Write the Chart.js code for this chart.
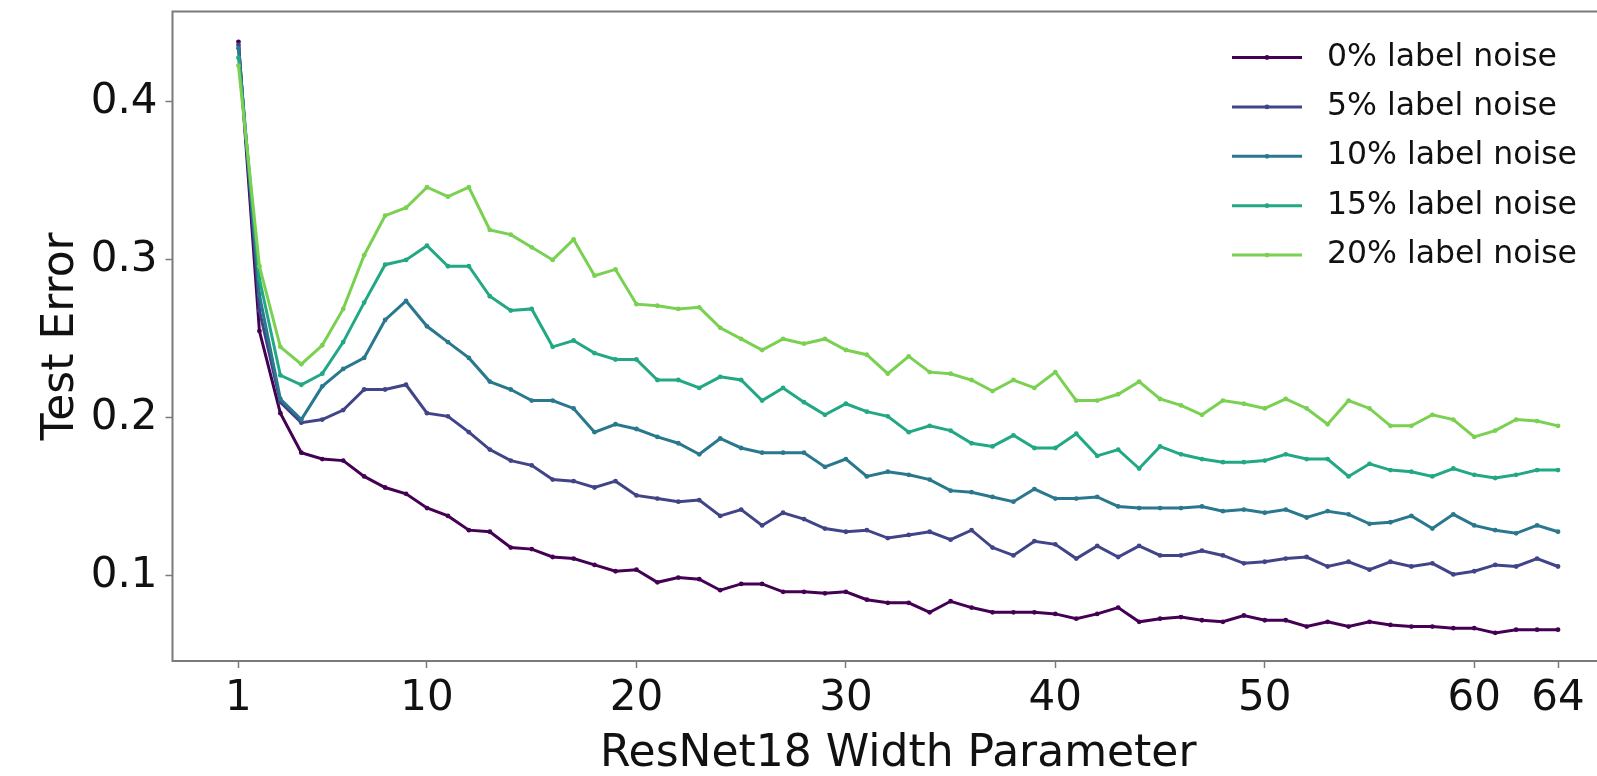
<!DOCTYPE html>
<html lang="en">
<head>
<meta charset="UTF-8">
<title>ResNet18 width vs test error</title>
<script src="https://cdn.jsdelivr.net/npm/chart.js"></script>
<style>
  html, body {
    margin: 0;
    padding: 0;
    background: #fff;
    overflow: hidden;
  }
  /* the axes run past the right edge of the window, like the cropped original */
  .wrap {
    width: 1640px;
    height: 776px;
    position: relative;
  }
</style>
</head>
<body>
<div class="wrap"><canvas id="chart"></canvas></div>
<script>
// ResNet18 width parameter (x values)
const widths = [
  1, 2, 3, 4, 5, 6, 7, 8, 9, 10, 11, 12, 13, 14, 15, 16,
  17, 18, 19, 20, 21, 22, 23, 24, 25, 26, 27, 28, 29, 30, 31, 32,
  33, 34, 35, 36, 37, 38, 39, 40, 41, 42, 43, 44, 45, 46, 47, 48,
  49, 50, 51, 52, 53, 54, 55, 56, 57, 58, 59, 60, 61, 62, 63, 64
];

// test error per label-noise level
const noise0 = [
  0.438, 0.255, 0.203, 0.178, 0.174, 0.173, 0.163, 0.156, 0.152, 0.143,
  0.138, 0.129, 0.128, 0.118, 0.117, 0.112, 0.111, 0.107, 0.103, 0.104,
  0.096, 0.099, 0.098, 0.091, 0.095, 0.095, 0.090, 0.090, 0.089, 0.090,
  0.085, 0.083, 0.083, 0.077, 0.084, 0.080, 0.077, 0.077, 0.077, 0.076,
  0.073, 0.076, 0.080, 0.071, 0.073, 0.074, 0.072, 0.071, 0.075, 0.072,
  0.072, 0.068, 0.071, 0.068, 0.071, 0.069, 0.068, 0.068, 0.067, 0.067,
  0.064, 0.066, 0.066, 0.066
];
const noise5 = [
  0.436, 0.268, 0.210, 0.197, 0.199, 0.205, 0.218, 0.218, 0.221, 0.203,
  0.201, 0.191, 0.180, 0.173, 0.170, 0.161, 0.160, 0.156, 0.160, 0.151,
  0.149, 0.147, 0.148, 0.138, 0.142, 0.132, 0.140, 0.136, 0.130, 0.128,
  0.129, 0.124, 0.126, 0.128, 0.123, 0.129, 0.118, 0.113, 0.122, 0.120,
  0.111, 0.119, 0.112, 0.119, 0.113, 0.113, 0.116, 0.113, 0.108, 0.109,
  0.111, 0.112, 0.106, 0.109, 0.104, 0.109, 0.106, 0.108, 0.101, 0.103,
  0.107, 0.106, 0.111, 0.106
];
const noise10 = [
  0.434, 0.278, 0.212, 0.199, 0.220, 0.231, 0.238, 0.262, 0.274, 0.258,
  0.248, 0.238, 0.223, 0.218, 0.211, 0.211, 0.206, 0.191, 0.196, 0.193,
  0.188, 0.184, 0.177, 0.187, 0.181, 0.178, 0.178, 0.178, 0.169, 0.174,
  0.163, 0.166, 0.164, 0.161, 0.154, 0.153, 0.150, 0.147, 0.155, 0.149,
  0.149, 0.150, 0.144, 0.143, 0.143, 0.143, 0.144, 0.141, 0.142, 0.140,
  0.142, 0.137, 0.141, 0.139, 0.133, 0.134, 0.138, 0.130, 0.139, 0.132,
  0.129, 0.127, 0.132, 0.128
];
const noise15 = [
  0.428, 0.288, 0.227, 0.221, 0.228, 0.248, 0.273, 0.297, 0.300, 0.309,
  0.296, 0.296, 0.277, 0.268, 0.269, 0.245, 0.249, 0.241, 0.237, 0.237,
  0.224, 0.224, 0.219, 0.226, 0.224, 0.211, 0.219, 0.210, 0.202, 0.209,
  0.204, 0.201, 0.191, 0.195, 0.192, 0.184, 0.182, 0.189, 0.181, 0.181,
  0.190, 0.176, 0.180, 0.168, 0.182, 0.177, 0.174, 0.172, 0.172, 0.173,
  0.177, 0.174, 0.174, 0.163, 0.171, 0.167, 0.166, 0.163, 0.168, 0.164,
  0.162, 0.164, 0.167, 0.167
];
const noise20 = [
  0.423, 0.296, 0.245, 0.234, 0.246, 0.269, 0.303, 0.328, 0.333, 0.346,
  0.340, 0.346, 0.319, 0.316, 0.308, 0.300, 0.313, 0.290, 0.294, 0.272,
  0.271, 0.269, 0.270, 0.257, 0.250, 0.243, 0.250, 0.247, 0.250, 0.243,
  0.240, 0.228, 0.239, 0.229, 0.228, 0.224, 0.217, 0.224, 0.219, 0.229,
  0.211, 0.211, 0.215, 0.223, 0.212, 0.208, 0.202, 0.211, 0.209, 0.206,
  0.212, 0.206, 0.196, 0.211, 0.206, 0.195, 0.195, 0.202, 0.199, 0.188,
  0.192, 0.199, 0.198, 0.195
];

const seriesLabels = ['0% label noise', '5% label noise', '10% label noise', '15% label noise', '20% label noise'];
const seriesValues = [noise0, noise5, noise10, noise15, noise20];
const seriesColors = ['#440154', '#414487', '#2a788e', '#22a884', '#7ad151'];

const xTicks = [1, 10, 20, 30, 40, 50, 60, 64];
const yTicks = [0.1, 0.2, 0.3, 0.4];

const FONT = '"DejaVu Sans", sans-serif';

// frame on all four sides + matplotlib-style legend in the top right corner
const frameAndLegend = {
  id: 'frameAndLegend',
  afterDatasetsDraw(chart) {
    const { ctx, chartArea: a } = chart;
    ctx.save();
    ctx.strokeStyle = '#7a7a7a';
    ctx.lineWidth = 2;
    ctx.strokeRect(a.left, a.top, a.right - a.left, a.bottom - a.top);

    ctx.font = '31.5px ' + FONT;
    ctx.textBaseline = 'middle';
    ctx.textAlign = 'left';
    chart.data.datasets.forEach((ds, i) => {
      const y = a.top + 46 + i * 49.4;
      const x0 = a.right - 392;
      const x1 = a.right - 322;
      ctx.strokeStyle = ds.borderColor;
      ctx.lineWidth = 3;
      ctx.beginPath();
      ctx.moveTo(x0, y);
      ctx.lineTo(x1, y);
      ctx.stroke();
      ctx.fillStyle = ds.borderColor;
      ctx.beginPath();
      ctx.arc((x0 + x1) / 2, y, 2.4, 0, Math.PI * 2);
      ctx.fill();
      ctx.fillStyle = '#111';
      ctx.fillText(ds.label, a.right - 297, y);
    });
    ctx.restore();
  }
};

const datasets = seriesLabels.map((label, i) => ({
  label: label,
  data: widths.map((w, j) => ({ x: w, y: seriesValues[i][j] })),
  borderColor: seriesColors[i],
  backgroundColor: seriesColors[i],
  borderWidth: 3,
  pointRadius: 2.4,
  pointBorderWidth: 0,
  pointHoverRadius: 0,
  tension: 0,
  fill: false,
  order: seriesLabels.length - i
}));

new Chart(document.getElementById('chart').getContext('2d'), {
  type: 'line',
  data: { datasets },
  plugins: [frameAndLegend],
  options: {
    responsive: true,
    maintainAspectRatio: false,
    animation: false,
    events: [],
    layout: { padding: { left: 0, right: 16, top: 11.5, bottom: 0 } },
    plugins: {
      legend: { display: false },
      tooltip: { enabled: false }
    },
    scales: {
      x: {
        type: 'linear',
        min: -2.15,
        max: 67.15,
        afterBuildTicks: (s) => { s.ticks = xTicks.map(v => ({ value: v })); },
        afterFit: (s) => { s.height = 115; s.paddingLeft = 0; s.paddingRight = 0; },
        grid: { drawOnChartArea: false, drawTicks: true, tickLength: 7, color: '#7a7a7a', tickWidth: 1.5 },
        border: { display: false },
        ticks: {
          autoSkip: false,
          maxRotation: 0,
          padding: 6,
          color: '#111',
          font: { family: FONT, size: 42 },
          callback: (v) => String(v)
        },
        title: {
          display: true,
          text: 'ResNet18 Width Parameter',
          color: '#111',
          font: { family: FONT, size: 44, lineHeight: 0.96 },
          padding: { top: 0, bottom: 0 }
        }
      },
      y: {
        type: 'linear',
        min: 0.0462,
        max: 0.4572,
        afterBuildTicks: (s) => { s.ticks = yTicks.map(v => ({ value: v })); },
        afterFit: (s) => { s.width = 172.5; s.paddingTop = 0; s.paddingBottom = 0; },
        grid: { drawOnChartArea: false, drawTicks: true, tickLength: 7, color: '#7a7a7a', tickWidth: 1.5 },
        border: { display: false },
        ticks: {
          padding: 8,
          color: '#111',
          font: { family: FONT, size: 42 },
          callback: (v) => v.toFixed(1)
        },
        title: {
          display: true,
          text: 'Test Error',
          color: '#111',
          font: { family: FONT, size: 44, lineHeight: 1.2 },
          padding: { top: 35, bottom: 0 }
        }
      }
    }
  }
});
</script>
</body>
</html>
